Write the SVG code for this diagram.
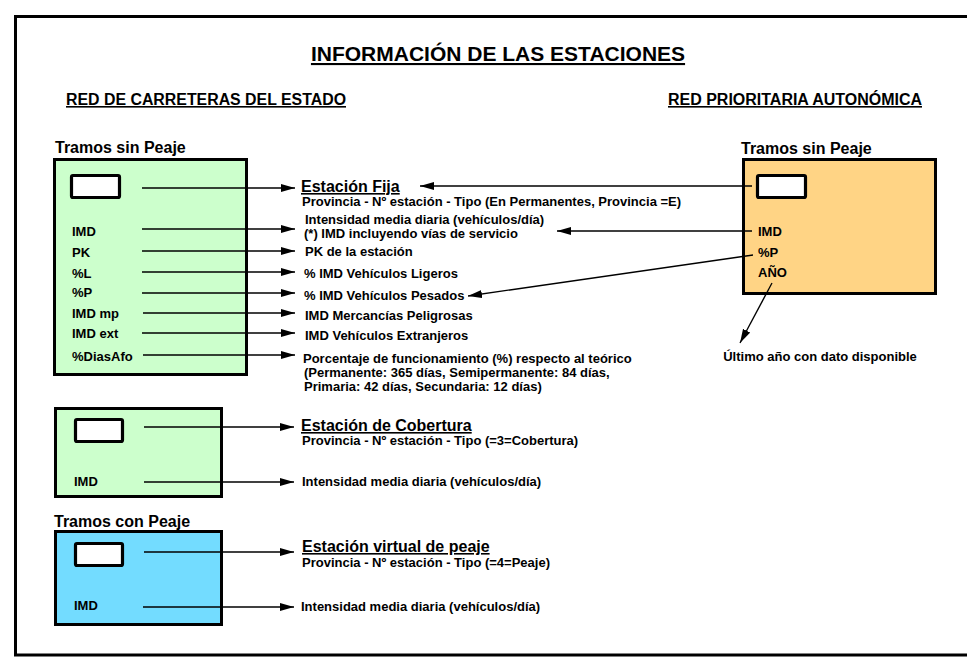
<svg xmlns="http://www.w3.org/2000/svg" width="967" height="661" viewBox="0 0 967 661">
<style>
text{font-family:"Liberation Sans",Arial,sans-serif;font-weight:bold;fill:#000}
.t{font-size:21px;text-decoration:underline}
.h{font-size:16px;text-decoration:underline}
.g{font-size:16px}
.s{font-size:13px}
.u{font-size:16px;text-decoration:underline}
.box{stroke:#000;stroke-width:3}
.win{fill:#fff;stroke:#000;stroke-width:3.2}
.c line{stroke:#000;stroke-width:1.3;marker-end:url(#ah)}
</style>
<defs>
<marker id="ah" markerUnits="userSpaceOnUse" markerWidth="15" markerHeight="9" refX="14" refY="4.5" orient="auto">
<path d="M0,0.5 L14,4.5 L0,8.5 z" fill="#000"/>
</marker>
</defs>
<rect width="967" height="661" fill="#fff"/>
<rect x="15.5" y="16.5" width="1000" height="638.5" fill="none" stroke="#000" stroke-width="3"/>

<g id="header">
<text class="t" x="498" y="61" text-anchor="middle">INFORMACIÓN DE LAS ESTACIONES</text>
<text class="h" x="66" y="105" textLength="280" lengthAdjust="spacingAndGlyphs">RED DE CARRETERAS DEL ESTADO</text>
<text class="h" x="668" y="105" textLength="254" lengthAdjust="spacingAndGlyphs">RED PRIORITARIA AUTONÓMICA</text>
</g>

<g id="fija">
<text class="g" x="55" y="153">Tramos sin Peaje</text>
<rect class="box" x="54.5" y="159.5" width="192" height="215" fill="#CCFFCC"/>
<rect class="win" x="71.5" y="175.5" width="48" height="22" rx="1.5"/>
<text class="s" x="72" y="236">IMD</text>
<text class="s" x="72" y="257">PK</text>
<text class="s" x="72" y="278">%L</text>
<text class="s" x="72" y="297">%P</text>
<text class="s" x="72" y="318">IMD mp</text>
<text class="s" x="72" y="338">IMD ext</text>
<text class="s" x="72" y="361">%DiasAfo</text>
</g>

<g id="fija-info">
<text class="u" x="301" y="192">Estación Fija</text>
<text class="s" x="302" y="206">Provincia - Nº estación - Tipo (En Permanentes, Provincia =E)</text>
<text class="s" x="305" y="224">Intensidad media diaria (vehículos/día)</text>
<text class="s" x="304" y="238">(*) IMD incluyendo vías de servicio</text>
<text class="s" x="305" y="256">PK de la estación</text>
<text class="s" x="304" y="278">% IMD Vehículos Ligeros</text>
<text class="s" x="304" y="300">% IMD Vehículos Pesados</text>
<text class="s" x="305" y="320">IMD Mercancías Peligrosas</text>
<text class="s" x="305" y="340">IMD Vehículos Extranjeros</text>
<text class="s" x="303" y="363">Porcentaje de funcionamiento (%) respecto al teórico</text>
<text class="s" x="304" y="377">(Permanente: 365 días, Semipermanente: 84 días,</text>
<text class="s" x="304" y="391">Primaria: 42 días, Secundaria: 12 días)</text>
</g>

<g id="autonomica">
<text class="g" x="741" y="154">Tramos sin Peaje</text>
<rect class="box" x="743.5" y="159.5" width="192" height="134" fill="#FFD485"/>
<rect class="win" x="757.5" y="175.5" width="48" height="22" rx="1.5"/>
<text class="s" x="758" y="236">IMD</text>
<text class="s" x="758" y="257">%P</text>
<text class="s" x="758" y="277">AÑO</text>
</g>
<g id="ultimo">
<text class="s" x="820" y="361" text-anchor="middle">Último año con dato disponible</text>
</g>

<g id="cobertura">
<rect class="box" x="55.5" y="408.5" width="166" height="88" fill="#CCFFCC"/>
<rect class="win" x="75.5" y="419.5" width="47" height="22" rx="1.5"/>
<text class="s" x="74" y="486">IMD</text>
<text class="u" x="301" y="431">Estación de Cobertura</text>
<text class="s" x="302" y="445">Provincia - Nº estación - Tipo (=3=Cobertura)</text>
<text class="s" x="302" y="486">Intensidad media diaria (vehículos/día)</text>
</g>

<g id="peaje">
<text class="g" x="54" y="527">Tramos con Peaje</text>
<rect class="box" x="55.5" y="531.5" width="166" height="93" fill="#73DCFF"/>
<rect class="win" x="75.5" y="543.5" width="47" height="22" rx="1.5"/>
<text class="s" x="74" y="610">IMD</text>
<text class="u" x="302" y="552">Estación virtual de peaje</text>
<text class="s" x="302" y="567">Provincia - Nº estación - Tipo (=4=Peaje)</text>
<text class="s" x="301" y="611">Intensidad media diaria (vehículos/día)</text>
</g>

<g id="connectors" class="c">
<line x1="142" y1="188" x2="295" y2="188"/>
<line x1="142" y1="229" x2="295" y2="229"/>
<line x1="142" y1="251" x2="295" y2="251"/>
<line x1="142" y1="272" x2="295" y2="272"/>
<line x1="142" y1="293" x2="295" y2="293"/>
<line x1="143" y1="313" x2="295" y2="313"/>
<line x1="142" y1="333" x2="295" y2="333"/>
<line x1="143" y1="355" x2="295" y2="355"/>
<line x1="752" y1="186" x2="420" y2="186"/>
<line x1="752" y1="231" x2="557" y2="231"/>
<line x1="753" y1="255" x2="468" y2="296"/>
<line x1="772" y1="283" x2="740" y2="343"/>
<line x1="144" y1="427" x2="294" y2="427"/>
<line x1="144" y1="482" x2="294" y2="482"/>
<line x1="144" y1="552" x2="294" y2="552"/>
<line x1="143" y1="607" x2="294" y2="607"/>
</g>
</svg>
